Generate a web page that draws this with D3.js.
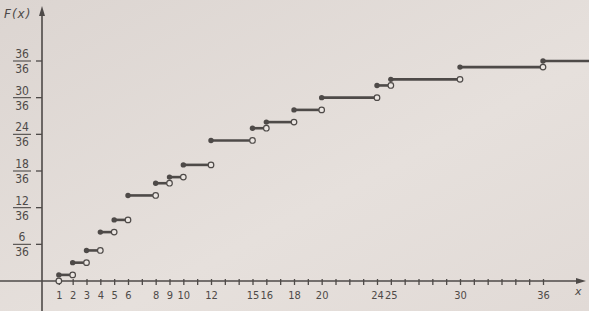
<!DOCTYPE html>
<html>
<head>
<meta charset="utf-8">
<script src="https://cdn.jsdelivr.net/npm/d3@7"></script>
<style>
  html, body { margin: 0; padding: 0; background: #e3ddd9; }
  svg { display: block; }
</style>
</head>
<body>
<svg id="chart" width="589" height="311"></svg>
<script>
// jump points of F(x) (product of two dice) and cumulative counts out of 36
const jumps = [1, 2, 3, 4, 5, 6, 8, 9, 10, 12, 15, 16, 18, 20, 24, 25, 30, 36];
const cumCounts = [1, 3, 5, 8, 10, 14, 16, 17, 19, 23, 25, 26, 28, 30, 32, 33, 35, 36];
const xLabels = [1, 2, 3, 4, 5, 6, 8, 9, 10, 12, 15, 16, 18, 20, 24, 25, 30, 36];
const yTicks = [6, 12, 18, 24, 30, 36];
const denom = 36;

const width = 589, height = 311;
const ink = "#4e4a48";
const narrow = "'DejaVu Sans Condensed', 'Liberation Sans Narrow', 'DejaVu Sans', sans-serif";

const svg = d3.select("#chart");

// paper tint
const grad = svg.append("defs").append("linearGradient")
    .attr("id", "paper").attr("x1", 0).attr("y1", 0).attr("x2", 1).attr("y2", 1);
grad.append("stop").attr("offset", "0%").attr("stop-color", "#dcd5d1");
grad.append("stop").attr("offset", "60%").attr("stop-color", "#e6e0dc");
grad.append("stop").attr("offset", "100%").attr("stop-color", "#e1dad6");
svg.append("rect").attr("width", width).attr("height", height).attr("fill", "url(#paper)");

const x = d3.scaleLinear().domain([0, 36]).range([45, 543]);
const y = d3.scaleLinear().domain([0, 36]).range([281, 61]);
const axisX = 42;

// x axis line + arrow
svg.append("line")
    .attr("x1", 0).attr("x2", 580)
    .attr("y1", y(0)).attr("y2", y(0))
    .attr("stroke", ink).attr("stroke-width", 1.6);
svg.append("path")
    .attr("d", `M586,${y(0)} L576,${y(0) - 3} L576,${y(0) + 3} Z`)
    .attr("fill", ink);

// y axis line + arrow
svg.append("line")
    .attr("x1", axisX).attr("x2", axisX)
    .attr("y1", 14).attr("y2", height)
    .attr("stroke", ink).attr("stroke-width", 1.6);
svg.append("path")
    .attr("d", `M${axisX},6 L${axisX - 3},16 L${axisX + 3},16 Z`)
    .attr("fill", ink);

// x ticks at every integer, labels only at jump points
const xAxis = d3.axisBottom(x)
    .tickValues(d3.range(1, 37))
    .tickSize(4)
    .tickSizeOuter(0)
    .tickPadding(6)
    .tickFormat(d => xLabels.includes(d) ? d : "");
const gx = svg.append("g")
    .attr("transform", `translate(0,${y(0)})`)
    .call(xAxis);
gx.select(".domain").remove();
gx.selectAll(".tick line")
    .attr("y1", -2)
    .attr("stroke", ink).attr("stroke-width", 1.3);
gx.selectAll(".tick text")
    .attr("fill", ink)
    .style("font-family", narrow)
    .style("font-size", "11px");

// y ticks with fraction labels
const gy = svg.append("g");
yTicks.forEach(t => {
    const ty = y(t);
    gy.append("line")
        .attr("x1", axisX - 6).attr("x2", axisX)
        .attr("y1", ty).attr("y2", ty)
        .attr("stroke", ink).attr("stroke-width", 1.3);
    gy.append("text")
        .attr("x", 22).attr("y", ty - 3)
        .attr("text-anchor", "middle")
        .attr("fill", ink)
        .style("font-family", narrow)
        .style("font-size", "12px")
        .text(t);
    gy.append("line")
        .attr("x1", 13).attr("x2", 31)
        .attr("y1", ty).attr("y2", ty)
        .attr("stroke", ink).attr("stroke-width", 1.1);
    gy.append("text")
        .attr("x", 22).attr("y", ty + 12)
        .attr("text-anchor", "middle")
        .attr("fill", ink)
        .style("font-family", narrow)
        .style("font-size", "12px")
        .text(denom);
});

// axis titles
svg.append("text")
    .attr("x", 4).attr("y", 18)
    .attr("fill", ink)
    .style("font-family", "'DejaVu Sans', sans-serif")
    .style("font-size", "12px")
    .style("font-style", "italic")
    .style("letter-spacing", "1px")
    .text("F(x)");
svg.append("text")
    .attr("x", 575).attr("y", 295)
    .attr("fill", ink)
    .style("font-family", "'DejaVu Sans', sans-serif")
    .style("font-size", "11px")
    .style("font-style", "italic")
    .text("x");

// step segments: [x_i, x_{i+1}) at level F(x_i)
const steps = jumps.map((j, i) => ({
    x0: j,
    x1: i < jumps.length - 1 ? jumps[i + 1] : x.invert(width + 5),
    f: cumCounts[i],
    last: i === jumps.length - 1
}));

const gs = svg.append("g");
gs.selectAll("line.step")
    .data(steps)
    .join("line")
    .attr("class", "step")
    .attr("x1", d => x(d.x0)).attr("x2", d => x(d.x1))
    .attr("y1", d => y(d.f)).attr("y2", d => y(d.f))
    .attr("stroke", ink).attr("stroke-width", 2.6);

// closed dots at left end
gs.selectAll("circle.closed")
    .data(steps)
    .join("circle")
    .attr("class", "closed")
    .attr("cx", d => x(d.x0)).attr("cy", d => y(d.f))
    .attr("r", 2.7)
    .attr("fill", ink);

// open dots at right end (and at F=0 jump at x=1)
const openPts = steps.filter(d => !d.last).map(d => ({ px: d.x1, f: d.f }));
openPts.unshift({ px: jumps[0], f: 0 });
gs.selectAll("circle.open")
    .data(openPts)
    .join("circle")
    .attr("class", "open")
    .attr("cx", d => x(d.px)).attr("cy", d => y(d.f))
    .attr("r", 2.8)
    .attr("fill", "#ebe6e2")
    .attr("stroke", ink).attr("stroke-width", 1.2);
</script>
</body>
</html>
